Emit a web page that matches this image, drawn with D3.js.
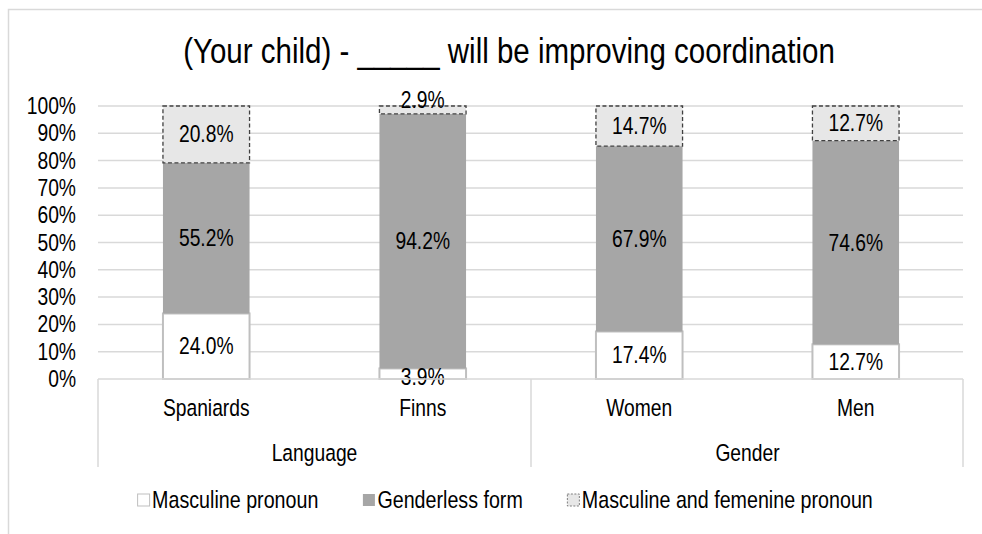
<!DOCTYPE html>
<html><head><meta charset="utf-8">
<script src="https://cdn.jsdelivr.net/npm/d3@7"></script>
<style>html,body{margin:0;padding:0;background:#fff;overflow:hidden}</style>
</head><body><svg id="chart" width="982" height="534"></svg>
<script>
const title = "(Your child) - _____ will be improving coordination";
const categories = ["Spaniards", "Finns", "Women", "Men"];
const groups = ["Language", "Language", "Gender", "Gender"];
const groupNames = ["Language", "Gender"];
const seriesNames = ["Masculine pronoun", "Genderless form", "Masculine and femenine pronoun"];
const masculine = [24.0, 3.9, 17.4, 12.7];
const genderless = [55.2, 94.2, 67.9, 74.6];
const mascFem = [20.8, 2.9, 14.7, 12.7];
const yTicks = [0, 10, 20, 30, 40, 50, 60, 70, 80, 90, 100];

(function () {
function hasFont(name) {
  const c = document.createElement("canvas").getContext("2d");
  const s = "abcdefghijWMl100% Genderless";
  c.font = "40px monospace"; const a = c.measureText(s).width;
  c.font = `40px "${name}", monospace`; const b = c.measureText(s).width;
  return Math.abs(a - b) > 0.5;
}
let family, sx;
if (hasFont("Liberation Sans Narrow")) { family = "'Liberation Sans Narrow'"; sx = 1; }
else if (hasFont("Arial Narrow")) { family = "'Arial Narrow'"; sx = 1; }
else { family = "'Liberation Sans', Arial, sans-serif"; sx = 0.82; }

const svg = d3.select("#chart").style("font-family", family);
function txt(sel, x, y, str, size, anchor) {
  return sel.append("text")
    .attr("transform", `translate(${x},${y}) scale(${sx},1)`)
    .attr("text-anchor", anchor || "middle")
    .style("font-size", size + "px").attr("fill", "#000").text(str);
}
function textW(str, size) {
  const c = document.createElement("canvas").getContext("2d");
  c.font = `${size}px ${family}`;
  return c.measureText(str).width * sx;
}

const grid = "#d9d9d9";
svg.append("rect").attr("x", 8.5).attr("y", 9.5).attr("width", 1100).attr("height", 600)
  .attr("fill", "none").attr("stroke", grid).attr("stroke-width", 1.5);

txt(svg, 509, 63, title, 36);

const pl = 98, pr = 964, pt = 106, pb = 379;
const x = d3.scaleBand().domain(categories).range([pl, pr]).paddingInner(0.6).paddingOuter(0.3);
const y = d3.scaleLinear().domain([0, 100]).range([pb, pt]);

svg.append("g").selectAll("line").data(yTicks.filter(t => t > 0)).join("line")
  .attr("x1", pl).attr("x2", pr - 1).attr("y1", d => y(d)).attr("y2", d => y(d))
  .attr("stroke", grid).attr("stroke-width", 1.5);
const yAxis = svg.append("g");
yTicks.forEach(t => txt(yAxis, 76, y(t) + 8, t + "%", 23.5, "end"));

const rows = categories.map((c, i) => ({ cat: c, m: masculine[i], g: genderless[i], mf: mascFem[i] }));
const stack = d3.stack().keys(["m", "g", "mf"]).offset(d3.stackOffsetExpand);
const series = stack(rows);
const styles = [
  { fill: "#ffffff", stroke: "#bfbfbf", sw: 2, dash: null },
  { fill: "#a6a6a6", stroke: "none", sw: 0, dash: null },
  { fill: "#e7e7e7", stroke: "#404040", sw: 1.3, dash: "4,2.5" }
];
const raw = [masculine, genderless, mascFem];
series.forEach((s, si) => {
  const st = styles[si];
  svg.append("g").selectAll("rect").data(s).join("rect")
    .attr("x", d => x(d.data.cat)).attr("width", x.bandwidth())
    .attr("y", d => y(d[1] * 100)).attr("height", d => y(d[0] * 100) - y(d[1] * 100))
    .attr("fill", st.fill).attr("stroke", st.stroke).attr("stroke-width", st.sw)
    .attr("stroke-dasharray", st.dash);
});
const lab = svg.append("g");
series.forEach((s, si) => {
  s.forEach((d, i) => {
    const y0 = y(d[0] * 100), y1 = y(d[1] * 100);
    let cy = (y0 + y1) / 2;
    const h = y0 - y1;
    if (h < 16) cy = si === 2 ? y1 - 6 : cy + 3;
    txt(lab, x(d.data.cat) + x.bandwidth() / 2, cy + 8, raw[si][i].toFixed(1) + "%", 23.5);
  });
});

const ax = svg.append("g").attr("stroke", grid).attr("stroke-width", 1.5);
ax.append("line").attr("x1", pl).attr("x2", pr - 1).attr("y1", pb).attr("y2", pb);
const bandStart = i => pl + i * (pr - pl) / categories.length;
const edges = [0];
groupNames.forEach(gn => edges.push(edges[edges.length - 1] + groups.filter(g => g === gn).length));
edges.forEach(e => {
  const xx = Math.min(bandStart(e), pr - 1);
  ax.append("line").attr("x1", xx).attr("x2", xx).attr("y1", pb).attr("y2", 467);
});
categories.forEach(c => txt(svg, x(c) + x.bandwidth() / 2, 416, c, 23.5));
groupNames.forEach((gn, gi) => {
  const cx = (bandStart(edges[gi]) + bandStart(edges[gi + 1])) / 2;
  txt(svg, cx, 461, gn, 23.5);
});

const lsize = 24, box = 12, gapBT = 3, gapItem = 44;
const widths = seriesNames.map(n => box + gapBT + textW(n, lsize));
const total = d3.sum(widths) + gapItem * (seriesNames.length - 1);
let lx = 505 - total / 2;
const ly = 500;
const leg = svg.append("g");
seriesNames.forEach((n, i) => {
  const st = styles[i];
  leg.append("rect").attr("x", lx + 0.5).attr("y", ly - box / 2).attr("width", box).attr("height", box)
    .attr("fill", st.fill).attr("stroke", i === 1 ? "none" : (i === 2 ? "#7f7f7f" : "#bfbfbf"))
    .attr("stroke-width", 1).attr("stroke-dasharray", i === 2 ? "2,1.5" : null);
  txt(leg, lx + box + gapBT, ly + 8, n, lsize, "start");
  lx += widths[i] + gapItem;
});
})();
</script></body></html>
